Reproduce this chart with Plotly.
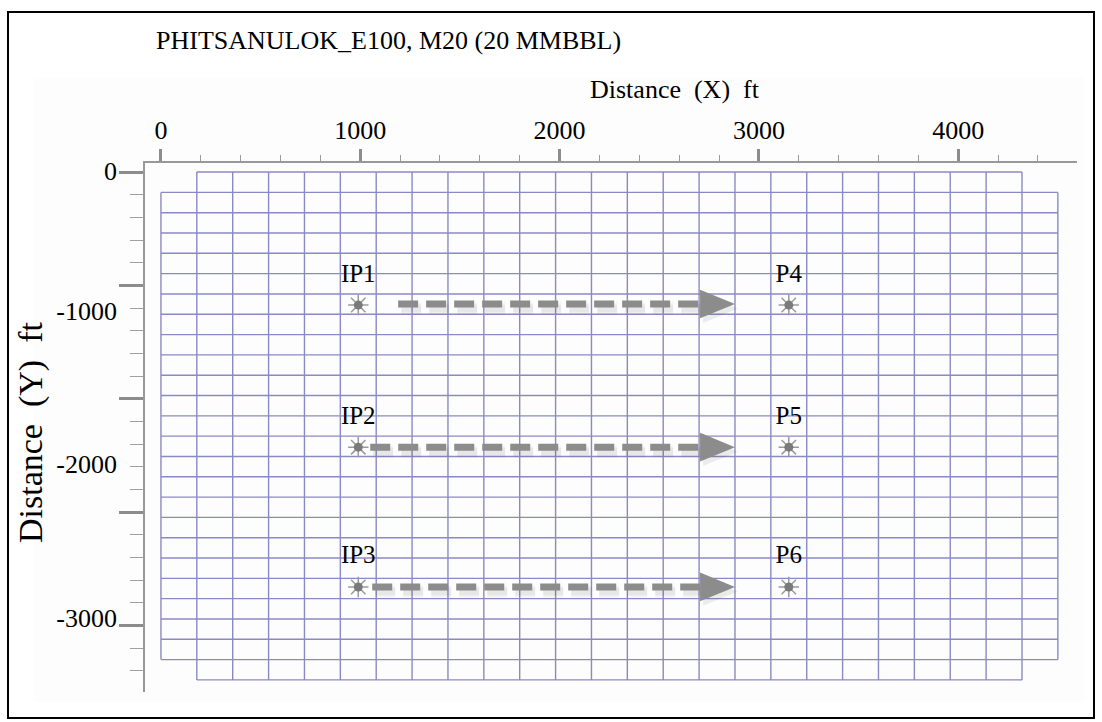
import plotly.graph_objects as go

# ---------------- data ----------------
title_text = "PHITSANULOK_E100, M20 (20 MMBBL)"
x_title = "Distance\u00a0 (X)\u00a0 ft"
y_title = "Distance\u00a0 (Y)\u00a0 ft"

# simulation grid (ft)
n_cols = 25
n_rows = 25
cell_dx = 180.0
cell_dy = 134.4

# wells
well_names = ["IP1", "IP2", "IP3", "P4", "P5", "P6"]
well_x = [990, 990, 990, 3150, 3150, 3150]
well_y = [-880, -1820, -2745, -880, -1820, -2745]

# flow arrows (injector -> producer)
arrow_y = [-873, -1820, -2745]
arrow_x_start = [1190, 1050, 1060]
arrow_x_tip = [2880, 2880, 2880]

# axes ticks
x_major = [0, 1000, 2000, 3000, 4000]
x_labels = ["0", "1000", "2000", "3000", "4000"]
y_major = [0, -750, -1500, -2250, -3000]
y_label_pos = [10, -919, -1931, -2947]
y_labels = ["0", "-1000", "-2000", "-3000"]

# ---------------- figure ----------------
FONT = "Liberation Serif, Times New Roman, serif"
GRID_COLOR = "#8a8ac2"
ARROW_COLOR = "#8c8c8c"
WELL_COLOR = "#9a9a9a"

fig = go.Figure()

# grid lines
gx, gy = [], []
for i in range(n_rows + 1):
    y = -i * cell_dy
    if i == 0 or i == n_rows:
        xa, xb = cell_dx, (n_cols - 1) * cell_dx
    else:
        xa, xb = 0.0, n_cols * cell_dx
    gx += [xa, xb, None]
    gy += [y, y, None]
for j in range(n_cols + 1):
    x = j * cell_dx
    if j == 0 or j == n_cols:
        ya, yb = -cell_dy, -(n_rows - 1) * cell_dy
    else:
        ya, yb = 0.0, -n_rows * cell_dy
    gx += [x, x, None]
    gy += [ya, yb, None]
fig.add_trace(go.Scatter(x=gx, y=gy, mode="lines",
                         line=dict(color=GRID_COLOR, width=1.4),
                         hoverinfo="skip", showlegend=False))

# arrows
head_len = 175.0
head_half = 95.0
shadow_dx = 15.0
shadow_dy = -30.0
SHADOW = "rgba(0,0,0,0.07)"
for xs, xt, ya in zip(arrow_x_start, arrow_x_tip, arrow_y):
    # soft shadow
    for w, a in [(12, 0.035), (8, 0.05)]:
        fig.add_trace(go.Scatter(x=[xs + shadow_dx, xt - head_len + shadow_dx],
                                 y=[ya + shadow_dy, ya + shadow_dy], mode="lines",
                                 line=dict(color=f"rgba(0,0,0,{a})", width=w, dash="20px,8px"),
                                 hoverinfo="skip", showlegend=False))
    fig.add_trace(go.Scatter(x=[xt - head_len + shadow_dx, xt + shadow_dx, xt - head_len + shadow_dx, xt - head_len + shadow_dx],
                             y=[ya + head_half + shadow_dy, ya + shadow_dy, ya - head_half + shadow_dy, ya + head_half + shadow_dy],
                             mode="lines", fill="toself", fillcolor=SHADOW,
                             line=dict(width=0, color="rgba(0,0,0,0)"),
                             hoverinfo="skip", showlegend=False))
    # shaft
    fig.add_trace(go.Scatter(x=[xs, xt - head_len + 5], y=[ya, ya], mode="lines",
                             line=dict(color=ARROW_COLOR, width=7, dash="20px,8px"),
                             hoverinfo="skip", showlegend=False))
    # head
    fig.add_trace(go.Scatter(x=[xt - head_len, xt, xt - head_len, xt - head_len],
                             y=[ya + head_half, ya, ya - head_half, ya + head_half],
                             mode="lines", fill="toself", fillcolor=ARROW_COLOR,
                             line=dict(width=0, color=ARROW_COLOR),
                             hoverinfo="skip", showlegend=False))

# wells: sun-like symbol
fig.add_trace(go.Scatter(x=well_x, y=well_y, mode="markers",
                         marker=dict(symbol="asterisk-open", size=17, color=WELL_COLOR,
                                     line=dict(color=WELL_COLOR, width=1.5)),
                         hoverinfo="skip", showlegend=False))
fig.add_trace(go.Scatter(x=well_x, y=well_y, mode="markers",
                         marker=dict(symbol="circle", size=9, color="#7a7a7a"),
                         hoverinfo="skip", showlegend=False))
# well labels
fig.add_trace(go.Scatter(x=well_x, y=well_y, mode="markers+text", text=well_names,
                         textposition="top center",
                         textfont=dict(family=FONT, size=25, color="#000"),
                         marker=dict(size=26, opacity=0),
                         hoverinfo="skip", showlegend=False))

# invisible trace on the label axis
fig.add_trace(go.Scatter(x=[None], y=[None], yaxis="y2", showlegend=False, hoverinfo="skip"))

X_RANGE = [-80, 4596]
Y_RANGE = [-3440, 60]

fig.update_layout(
    width=1102, height=722,
    margin=dict(l=145, r=25, t=163, b=30),
    paper_bgcolor="white", plot_bgcolor="white",
    showlegend=False,
    font=dict(family=FONT, size=26, color="#000"),
    title=dict(text=title_text, x=156 / 1102, xanchor="left",
               y=1 - 40 / 722, yanchor="middle",
               font=dict(family=FONT, size=26, color="#000")),
    xaxis=dict(range=X_RANGE, side="top", showgrid=False, zeroline=False,
               showline=True, linecolor="#999999", linewidth=1.5,
               tickmode="array", tickvals=x_major, ticktext=x_labels,
               ticks="outside", ticklen=12, tickwidth=2.5, tickcolor="#8c8c8c",
               ticklabelstandoff=0,
               tickfont=dict(family=FONT, size=26, color="#000"),
               minor=dict(tickmode="linear", tick0=0, dtick=200, ticks="outside",
                          ticklen=6, tickwidth=1, tickcolor="#9a9a9a"),
               fixedrange=True),
    yaxis=dict(range=Y_RANGE, showgrid=False, zeroline=False,
               showline=True, linecolor="#999999", linewidth=1.5,
               tickmode="array", tickvals=y_major, showticklabels=False,
               ticks="outside", ticklen=24, tickwidth=2.5, tickcolor="#8c8c8c",
               minor=dict(tickmode="linear", tick0=0, dtick=150, ticks="outside",
                          ticklen=13, tickwidth=1.2, tickcolor="#a0a0a0"),
               fixedrange=True),
    yaxis2=dict(range=Y_RANGE, overlaying="y", side="left", anchor="x",
                showgrid=False, zeroline=False, showline=False,
                tickmode="array", tickvals=y_label_pos, ticktext=y_labels,
                ticks="", ticklabelstandoff=27,
                tickfont=dict(family=FONT, size=26, color="#000"),
                fixedrange=True),
    annotations=[
        dict(text=x_title, xref="paper", yref="paper",
             x=(675 - 145) / 932, y=(692 - 89) / 529, xanchor="center", yanchor="middle",
             showarrow=False, font=dict(family=FONT, size=26, color="#000")),
        dict(text=y_title, xref="paper", yref="paper", textangle=-90,
             x=(31 - 145) / 932, y=(692 - 433) / 529, xanchor="center", yanchor="middle",
             showarrow=False, font=dict(family=FONT, size=34, color="#000")),
    ],
    shapes=[
        dict(type="rect", xref="paper", yref="paper", layer="below",
             x0=(33 - 145) / 932, x1=(1085 - 145) / 932,
             y0=(692 - 702) / 529, y1=(692 - 77) / 529,
             fillcolor="#fdfdfd", line=dict(width=0)),
        dict(type="rect", xref="paper", yref="paper",
             x0=(8 - 145) / 932, x1=(1094 - 145) / 932,
             y0=(692 - 718) / 529, y1=(692 - 12) / 529,
             line=dict(color="#000", width=2)),
    ],
)

fig.write_html("out.html", config={"displayModeBar": False},
               post_script="document.body.style.margin='0';document.body.style.overflow='hidden';")
